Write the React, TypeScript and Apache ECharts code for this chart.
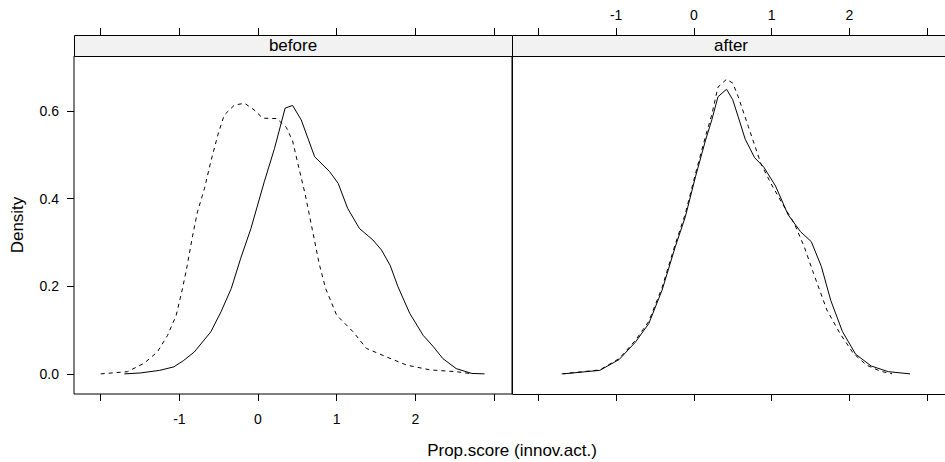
import React, { useEffect, useRef } from "react";
import * as echarts from "echarts";

// Panel names (strip labels)
const panels = ["before", "after"];

// Axis ticks and labels
const xTicks = [-2, -1, 0, 1, 2, 3];
const xLabels = [-1, 0, 1, 2];
const yTicks = [0, 0.2, 0.4, 0.6];

// Density estimates, [score, density]
const beforeSolid: [number, number][] = [
  [-1.7, 0], [-1.5, 0.002], [-1.25, 0.008], [-1.07, 0.016], [-0.95, 0.03], [-0.81, 0.05],
  [-0.6, 0.096], [-0.47, 0.142], [-0.34, 0.195], [-0.22, 0.264], [-0.09, 0.332], [0.08, 0.439],
  [0.21, 0.515], [0.345, 0.607], [0.44, 0.613], [0.55, 0.58], [0.72, 0.496], [0.91, 0.462],
  [1.02, 0.435], [1.14, 0.378], [1.29, 0.332], [1.46, 0.306], [1.57, 0.283], [1.68, 0.248],
  [1.78, 0.199], [1.93, 0.138], [2.1, 0.088], [2.23, 0.062], [2.35, 0.035], [2.52, 0.012],
  [2.72, 0.001], [2.88, 0],
];

const beforeDashed: [number, number][] = [
  [-2.0, 0], [-1.66, 0.005], [-1.45, 0.024], [-1.28, 0.05], [-1.15, 0.088], [-1.04, 0.134],
  [-0.96, 0.195], [-0.9, 0.248], [-0.83, 0.317], [-0.77, 0.37], [-0.68, 0.424], [-0.6, 0.485],
  [-0.51, 0.546], [-0.43, 0.591], [-0.3, 0.614], [-0.17, 0.618], [-0.05, 0.603], [0.06, 0.584],
  [0.24, 0.583], [0.36, 0.563], [0.44, 0.532], [0.52, 0.47], [0.6, 0.41], [0.69, 0.33],
  [0.78, 0.25], [0.86, 0.195], [1.0, 0.134], [1.21, 0.096], [1.38, 0.058], [1.63, 0.039],
  [1.89, 0.02], [2.19, 0.009], [2.52, 0.005], [2.73, 0],
];

const afterSolid: [number, number][] = [
  [-1.68, 0], [-1.21, 0.008], [-0.96, 0.033], [-0.75, 0.073], [-0.58, 0.115], [-0.41, 0.191],
  [-0.24, 0.29], [-0.11, 0.359], [0.02, 0.45], [0.15, 0.534], [0.23, 0.58], [0.31, 0.633],
  [0.42, 0.65], [0.5, 0.626], [0.57, 0.587], [0.66, 0.536], [0.78, 0.494], [0.9, 0.472],
  [1.05, 0.429], [1.21, 0.364], [1.37, 0.325], [1.51, 0.302], [1.64, 0.245], [1.76, 0.168],
  [1.91, 0.097], [2.08, 0.045], [2.28, 0.018], [2.5, 0.005], [2.78, 0],
];

const afterDashed: [number, number][] = [
  [-1.7, 0], [-1.21, 0.009], [-0.96, 0.035], [-0.75, 0.077], [-0.58, 0.12], [-0.41, 0.197],
  [-0.24, 0.296], [-0.11, 0.366], [0.02, 0.457], [0.15, 0.543], [0.23, 0.592], [0.31, 0.655],
  [0.42, 0.673], [0.5, 0.664], [0.57, 0.633], [0.7, 0.565], [0.86, 0.481], [0.99, 0.435],
  [1.16, 0.382], [1.29, 0.344], [1.42, 0.29], [1.54, 0.229], [1.71, 0.146], [1.88, 0.092],
  [2.05, 0.047], [2.22, 0.02], [2.4, 0.006], [2.55, 0],
];

const X_MIN = -2.34;
const X_MAX = 3.23;
const Y_MIN = -0.046;
const Y_MAX = 0.726;

const FONT = "'Liberation Sans', Arial, Helvetica, sans-serif";
const PANEL_TOP = 56;
const PANEL_H = 338;
const PANEL_W = 438;
const PANEL_LEFT = [74, 512];
const STRIP_H = 21;
const EDGE = 960; // beyond the right side of the page

function xAxisFor(gridIndex: number, position: "top" | "bottom", showLabels: boolean) {
  return {
    type: "value",
    gridIndex,
    position,
    offset: position === "top" ? STRIP_H : 0,
    min: X_MIN,
    max: X_MAX,
    axisLine: { show: false, onZero: false },
    splitLine: { show: false },
    axisTick: {
      show: true,
      inside: false,
      length: 7,
      customValues: xTicks,
      lineStyle: { color: "#000", width: 1 },
    },
    axisLabel: {
      show: showLabels,
      customValues: xLabels,
      color: "#000",
      fontSize: 14,
      fontFamily: FONT,
      margin: position === "top" ? 13 : 18,
      formatter: (v: number) => String(v),
    },
  };
}

function lineSeries(data: [number, number][], idx: number, dashed: boolean) {
  return {
    type: "line",
    xAxisIndex: idx,
    yAxisIndex: idx,
    data,
    showSymbol: false,
    symbol: "none",
    smooth: false,
    clip: true,
    lineStyle: { color: "#000", width: 1, type: dashed ? [4, 4] : "solid" },
  };
}

export default function App() {
  const ref = useRef<HTMLDivElement>(null);

  useEffect(() => {
    if (!ref.current) return;
    const chart = echarts.init(ref.current, null, { renderer: "svg" });

    const stripTop = PANEL_TOP - STRIP_H;
    const frame = { stroke: "#000", lineWidth: 1, fill: "none" };

    const decorations: any[] = [
      // left panel strip
      {
        type: "rect",
        shape: { x: PANEL_LEFT[0] + 0.5, y: stripTop + 0.5, width: PANEL_W, height: STRIP_H },
        style: { fill: "#f2f2f2", stroke: "#000", lineWidth: 1 },
        z: 10,
      },
      // right panel strip: fill, then the three visible edges
      {
        type: "rect",
        shape: { x: PANEL_LEFT[1] + 0.5, y: stripTop + 0.5, width: EDGE - PANEL_LEFT[1], height: STRIP_H },
        style: { fill: "#f2f2f2" },
        z: 10,
      },
      {
        type: "polyline",
        shape: {
          points: [
            [EDGE, stripTop + 0.5],
            [PANEL_LEFT[1] + 0.5, stripTop + 0.5],
            [PANEL_LEFT[1] + 0.5, PANEL_TOP + PANEL_H + 0.5],
            [EDGE, PANEL_TOP + PANEL_H + 0.5],
          ],
        },
        style: frame,
        z: 12,
      },
      {
        type: "line",
        shape: { x1: PANEL_LEFT[1] + 0.5, y1: PANEL_TOP + 0.5, x2: EDGE, y2: PANEL_TOP + 0.5 },
        style: frame,
        z: 12,
      },
    ];

    panels.forEach((name, i) => {
      decorations.push({
        type: "text",
        x: PANEL_LEFT[i] + PANEL_W / 2,
        y: PANEL_TOP - STRIP_H / 2,
        style: {
          text: name,
          fill: "#000",
          font: `17px ${FONT}`,
          align: "center",
          verticalAlign: "middle",
        },
        z: 11,
      });
    });

    chart.setOption({
      animation: false,
      backgroundColor: "#fff",
      grid: PANEL_LEFT.map((left, i) => ({
        left,
        top: PANEL_TOP,
        width: PANEL_W,
        height: PANEL_H,
        show: i === 0,
        borderColor: "#000",
        borderWidth: 1,
        backgroundColor: "transparent",
        containLabel: false,
      })),
      xAxis: [
        xAxisFor(0, "bottom", true),
        xAxisFor(1, "bottom", false),
        xAxisFor(0, "top", false),
        xAxisFor(1, "top", true),
      ],
      yAxis: [
        {
          type: "value",
          gridIndex: 0,
          position: "left",
          min: Y_MIN,
          max: Y_MAX,
          axisLine: { show: false, onZero: false },
          splitLine: { show: false },
          axisTick: {
            show: true,
            length: 7,
            customValues: yTicks,
            lineStyle: { color: "#000", width: 1 },
          },
          axisLabel: {
            customValues: yTicks,
            color: "#000",
            fontSize: 14,
            fontFamily: FONT,
            margin: 15,
            formatter: (v: number) => v.toFixed(1),
          },
        },
        {
          type: "value",
          gridIndex: 1,
          min: Y_MIN,
          max: Y_MAX,
          axisLine: { show: false, onZero: false },
          splitLine: { show: false },
          axisTick: { show: false },
          axisLabel: { show: false },
        },
      ],
      series: [
        lineSeries(beforeSolid, 0, false),
        lineSeries(beforeDashed, 0, true),
        lineSeries(afterSolid, 1, false),
        lineSeries(afterDashed, 1, true),
      ],
      graphic: [
        ...decorations,
        {
          type: "text",
          x: 17,
          y: PANEL_TOP + PANEL_H / 2,
          rotation: Math.PI / 2,
          style: {
            text: "Density",
            fill: "#000",
            font: `17px ${FONT}`,
            align: "center",
            verticalAlign: "middle",
          },
        },
        {
          type: "text",
          x: 512,
          y: 450,
          style: {
            text: "Prop.score (innov.act.)",
            fill: "#000",
            font: `17px ${FONT}`,
            align: "center",
            verticalAlign: "middle",
          },
        },
      ],
    });

    return () => chart.dispose();
  }, []);

  return (
    <div
      ref={ref}
      style={{ position: "fixed", left: 0, top: 0, width: 945, height: 462, background: "#fff" }}
    />
  );
}
